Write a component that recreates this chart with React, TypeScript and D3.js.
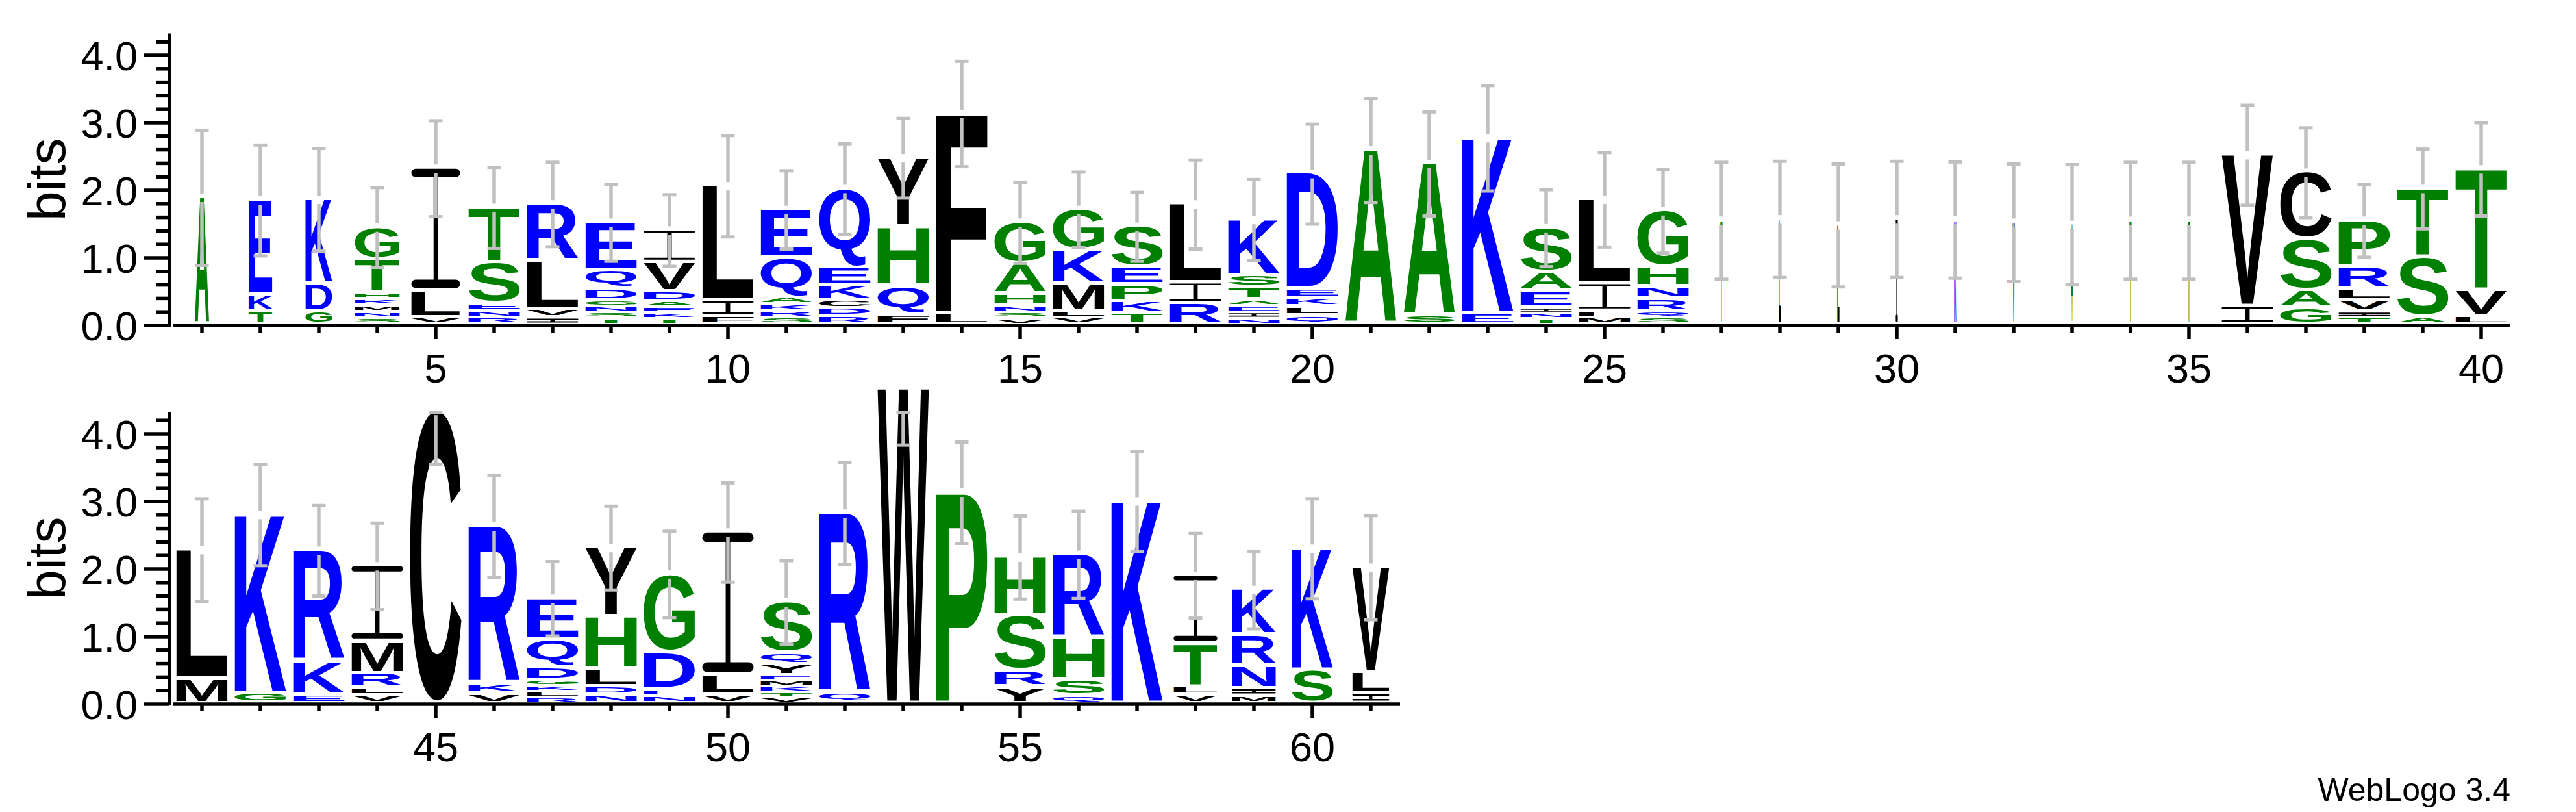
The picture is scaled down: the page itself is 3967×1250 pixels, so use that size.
import React, { useMemo } from 'react';
import * as d3 from 'd3';

// ---------------- data ----------------
// letters of each stack, bottom to top (positions 1..61)
const stackLetters: string[] = [
  'A', 'TKE', 'GDK', 'SNMKHTG', 'VLI', 'RNEST', 'IVLR', 'TSNGDQE', 'TKEADVI', 'FIL',
  'SRKAQE', 'RDCKEQ', 'FQHY', 'LF', 'VSNHAG', 'VLMKG', 'TKPES', 'RIL', 'NIEATSK', 'QLKED',
  'A', 'SA', 'EK', 'TNIEAS', 'MFIL', 'SQRNHG', 'T', 'L', 'L', 'I',
  'K', 'V', 'A', 'T', 'T', 'IV', 'GASC', 'TIVLRP', 'AST', 'LVT',
  'ML', 'GK', 'EKR', 'VLRMI', 'C', 'VKR', 'RLKGDQE', 'NDLHY', 'NEDG', 'VLI',
  'VTKMEYQS', 'QR', 'W', 'P', 'YRSH', 'QSHR', 'K', 'VLTI', 'MINRK', 'SK', 'ILV',
];

// letter heights in bits, bottom to top
const stackBits: number[][] = [
  [1.89], [0.2, 0.24, 1.41], [0.19, 0.42, 1.25], [0.095, 0.095, 0.095, 0.095, 0.095, 0.49, 0.485],
  [0.1, 0.4, 1.82], [0.1, 0.1, 0.11, 0.61, 0.82], [0.1, 0.12, 0.72, 0.85],
  [0.09, 0.09, 0.09, 0.08, 0.18, 0.27, 0.72], [0.085, 0.085, 0.085, 0.085, 0.15, 0.43, 0.485],
  [0.12, 0.24, 1.7],
  [0.1, 0.1, 0.1, 0.1, 0.6, 0.71], [0.12, 0.12, 0.12, 0.22, 0.26, 1.18], [0.15, 0.42, 0.875, 1.03],
  [0.16, 2.97], [0.09, 0.09, 0.09, 0.18, 0.45, 0.62], [0.1, 0.1, 0.4, 0.5, 0.61],
  [0.17, 0.17, 0.25, 0.26, 0.61], [0.31, 0.31, 1.17], [0.09, 0.09, 0.095, 0.095, 0.18, 0.18, 0.83],
  [0.13, 0.13, 0.13, 0.14, 1.71],
  [2.59], [0.13, 2.26], [0.16, 2.61], [0.083, 0.083, 0.083, 0.25, 0.28, 0.66], [0.1, 0.1, 0.41, 1.25],
  [0.1, 0.09, 0.19, 0.18, 0.29, 0.84], [1.55], [1.57], [1.48], [1.57],
  [1.56], [1.52], [1.49], [1.55], [1.55], [0.27, 2.25], [0.24, 0.26, 0.76, 1.0],
  [0.1, 0.09, 0.17, 0.16, 0.34, 0.69], [0.11, 0.89, 1.02], [0.12, 0.39, 1.8],
  [0.36, 1.92], [0.15, 2.65], [0.12, 0.5, 1.65], [0.12, 0.1, 0.22, 0.48, 1.12], [4.34],
  [0.14, 0.15, 2.34], [0.085, 0.085, 0.085, 0.085, 0.19, 0.42, 0.61], [0.12, 0.13, 0.26, 0.77, 1.03],
  [0.1, 0.11, 0.55, 1.16], [0.13, 0.29, 2.12],
  [0.082, 0.082, 0.082, 0.082, 0.082, 0.165, 0.17, 0.76], [0.15, 2.67], [4.67], [3.13],
  [0.24, 0.24, 0.82, 0.87], [0.11, 0.24, 0.62, 1.24], [3.0], [0.12, 0.13, 0.64, 1.01],
  [0.11, 0.11, 0.34, 0.45, 0.68], [0.49, 1.81], [0.15, 0.31, 1.56],
];

// fraction of the full stack width (occupancy)
const stackOccupancy: number[] = [
  0.28, 0.46, 0.52, 0.87, 0.95, 1, 1, 1, 1, 1,
  1, 1, 1, 1, 1, 1, 1, 1, 1, 1,
  1, 1, 1, 1, 1, 1, 0.04, 0.04, 0.04, 0.04,
  0.04, 0.04, 0.04, 0.04, 0.04, 1, 1, 1, 1, 1,
  1, 1, 1, 1, 1, 1, 1, 1, 1, 1,
  1, 1, 1, 1, 1, 1, 1, 0.85, 0.85, 0.8, 0.72,
];

// half-length of the error bars, bits
const stackError: number[] = [
  1.0, 0.82, 0.76, 0.59, 0.71, 0.6, 0.625, 0.57, 0.53, 0.75,
  0.58, 0.67, 0.59, 0.78, 0.6, 0.56, 0.51, 0.66, 0.6, 0.74,
  0.77, 0.77, 0.78, 0.57, 0.7, 0.62, 0.865, 0.86, 0.91, 0.86,
  0.86, 0.87, 0.89, 0.865, 0.865, 0.74, 0.665, 0.54, 0.59, 0.69,
  0.76, 0.75, 0.67, 0.64, 0.79, 0.76, 0.55, 0.62, 0.64, 0.735,
  0.62, 0.756, 0.835, 0.75, 0.615, 0.645, 0.745, 0.627, 0.575, 0.74, 0.77,
];

const lineStarts = [1, 41];
const lineEnds = [40, 61];
const yTickValues = [0, 1, 2, 3, 4];
const yMinorTickValues = [0.2, 0.4, 0.6, 0.8, 1.2, 1.4, 1.6, 1.8, 2.2, 2.4, 2.6, 2.8, 3.2, 3.4, 3.6, 3.8, 4.2];
const xLabelEvery = 5;

const blueLetters = 'RKDENQ';
const greenLetters = 'SGHTAP';

// ---------------- layout ----------------
const W = 3967;
const H = 1250;
const rowBase = [501, 1084];
const bitPx = 104;
const yMax = Math.log2(20);
const xLeft = 266;
const stackPx = 90;
const letterFull = 79;
const FONT = "'Liberation Sans', Arial, Helvetica, sans-serif";
const AXIS_W = 5.5;
const ERR_W = 5.5;

function colorOf(ch: string) {
  if (blueLetters.includes(ch)) return '#0000ff';
  if (greenLetters.includes(ch)) return '#008000';
  return '#000000';
}

function useGlyphMetrics() {
  return useMemo(() => {
    const c = document.createElement('canvas');
    const ctx = c.getContext('2d')!;
    ctx.font = `bold 200px ${FONT}`;
    const m: Record<string, { l: number; r: number; a: number; d: number }> = {};
    for (const ch of 'ACDEFGHIKLMNPQRSTVWY') {
      const t = ctx.measureText(ch);
      m[ch] = {
        l: t.actualBoundingBoxLeft,
        r: t.actualBoundingBoxRight,
        a: t.actualBoundingBoxAscent,
        d: t.actualBoundingBoxDescent,
      };
    }
    return m;
  }, []);
}

export default function App() {
  const metrics = useGlyphMetrics();

  const rows = lineStarts.map((start, ri) => {
    const end = lineEnds[ri];
    const base = rowBase[ri];
    const x = d3.scaleLinear().domain([start - 0.5, start + 39.5]).range([xLeft, xLeft + 40 * stackPx]);
    const y = d3.scaleLinear().domain([0, yMax]).range([base, base - yMax * bitPx]);
    const positions = d3.range(start, end + 1);
    return { start, end, base, x, y, positions };
  });

  return (
    <svg
      width={W}
      height={H}
      viewBox={`0 0 ${W} ${H}`}
      style={{ position: 'absolute', left: 0, top: 0, background: '#fff' }}
    >
      <rect x={0} y={0} width={W} height={H} fill="#fff" />
      {rows.map((row, ri) => {
        const { x, y, positions, base } = row;
        const axisRight = x(row.end + 0.5);
        return (
          <g key={ri}>
            {/* stacks */}
            {positions.map((p) => {
              const i = p - 1;
              const letters = stackLetters[i].split('');
              const bits = stackBits[i];
              const w = letterFull * stackOccupancy[i];
              const x0 = x(p) - w / 2;
              let cum = 0;
              return (
                <g key={p}>
                  {letters.map((ch, k) => {
                    const b0 = cum;
                    cum += bits[k];
                    const yb = y(b0) - 1.5;
                    const yt = y(cum);
                    const boxH = yb - yt;
                    const gap = Math.min(4, boxH * 0.35);
                    const hh = boxH - gap;
                    const ybot = yb - gap;
                    if (hh <= 0) return null;
                    if (ch === 'I') {
                      const bt = Math.min(Math.max(0.071 * hh, 2.5), hh / 3);
                      const sw = Math.max(0.087 * w, 1.2);
                      return (
                        <g key={k} fill="#000">
                          <rect x={x0} y={yt} width={w} height={bt} rx={Math.min(bt / 2, w / 2)} />
                          <rect x={x0} y={ybot - bt} width={w} height={bt} rx={Math.min(bt / 2, w / 2)} />
                          <rect x={x0 + w / 2 - sw / 2} y={yt + bt / 2} width={sw} height={hh - bt} />
                        </g>
                      );
                    }
                    const g = metrics[ch];
                    const gw = g.l + g.r;
                    const gh = g.a + g.d;
                    if (!(gw > 0 && gh > 0)) return null;
                    const sx = w / gw;
                    const sy = hh / gh;
                    return (
                      <text
                        key={k}
                        transform={`translate(${x0 + g.l * sx},${ybot - g.d * sy}) scale(${sx},${sy})`}
                        fontFamily={FONT}
                        fontWeight="bold"
                        fontSize={200}
                        fill={colorOf(ch)}
                      >
                        {ch}
                      </text>
                    );
                  })}
                </g>
              );
            })}
            {/* error bars */}
            {positions.map((p) => {
              const i = p - 1;
              const top = d3.sum(stackBits[i]);
              const e = stackError[i];
              const hi = Math.min(top + e, yMax);
              const lo = Math.max(top - e, 0);
              const cx = x(p);
              const gapPx = 6.5;
              const segs: [number, number][] = [];
              if (top < yMax) {
                if (y(hi) < y(top) - gapPx) segs.push([y(hi), y(top) - gapPx]);
                segs.push([y(top) + gapPx, y(lo)]);
              } else {
                segs.push([Math.max(y(top) + gapPx, y(yMax)), y(lo)]);
              }
              return (
                <g key={'e' + p} stroke="#c0c0c0" fill="none">
                  {segs.map((s, k) => (
                    <line key={k} x1={cx} x2={cx} y1={s[0]} y2={s[1]} strokeWidth={ERR_W} />
                  ))}
                  <line x1={cx - 10.5} x2={cx + 10.5} y1={y(hi)} y2={y(hi)} strokeWidth={5} />
                  <line x1={cx - 10.5} x2={cx + 10.5} y1={y(lo)} y2={y(lo)} strokeWidth={5} />
                </g>
              );
            })}
            {/* x axis */}
            <line x1={xLeft} x2={axisRight} y1={base} y2={base} stroke="#000" strokeWidth={AXIS_W} />
            {positions.map((p) => (
              <line
                key={'xt' + p}
                x1={x(p)}
                x2={x(p)}
                y1={base}
                y2={base + (p % xLabelEvery === 0 ? 21 : 11)}
                stroke="#000"
                strokeWidth={AXIS_W}
              />
            ))}
            {positions
              .filter((p) => p % xLabelEvery === 0)
              .map((p) => (
                <text
                  key={'xl' + p}
                  x={x(p)}
                  y={base + 88}
                  textAnchor="middle"
                  fontFamily={FONT}
                  fontSize={63}
                  fill="#000"
                >
                  {p}
                </text>
              ))}
            {/* y axis */}
            <line x1={261} x2={261} y1={base + 2} y2={y(yMax)} stroke="#000" strokeWidth={AXIS_W} />
            {yTickValues.map((v) => (
              <g key={'yt' + v}>
                <line x1={221} x2={261} y1={y(v)} y2={y(v)} stroke="#000" strokeWidth={AXIS_W} />
                <text
                  x={212}
                  y={y(v) + 22.5}
                  textAnchor="end"
                  fontFamily={FONT}
                  fontSize={63}
                  fill="#000"
                >
                  {v.toFixed(1)}
                </text>
              </g>
            ))}
            {yMinorTickValues.map((v) => (
              <line key={'ym' + v} x1={241} x2={261} y1={y(v)} y2={y(v)} stroke="#000" strokeWidth={AXIS_W} />
            ))}
            <text
              transform={`translate(100,${(y(0) + y(yMax)) / 2}) rotate(-90)`}
              textAnchor="middle"
              fontFamily={FONT}
              fontSize={82}
              fill="#000"
            >
              bits
            </text>
          </g>
        );
      })}
      <text x={3866} y={1233} textAnchor="end" fontFamily={FONT} fontSize={50} fill="#000">
        WebLogo 3.4
      </text>
    </svg>
  );
}
